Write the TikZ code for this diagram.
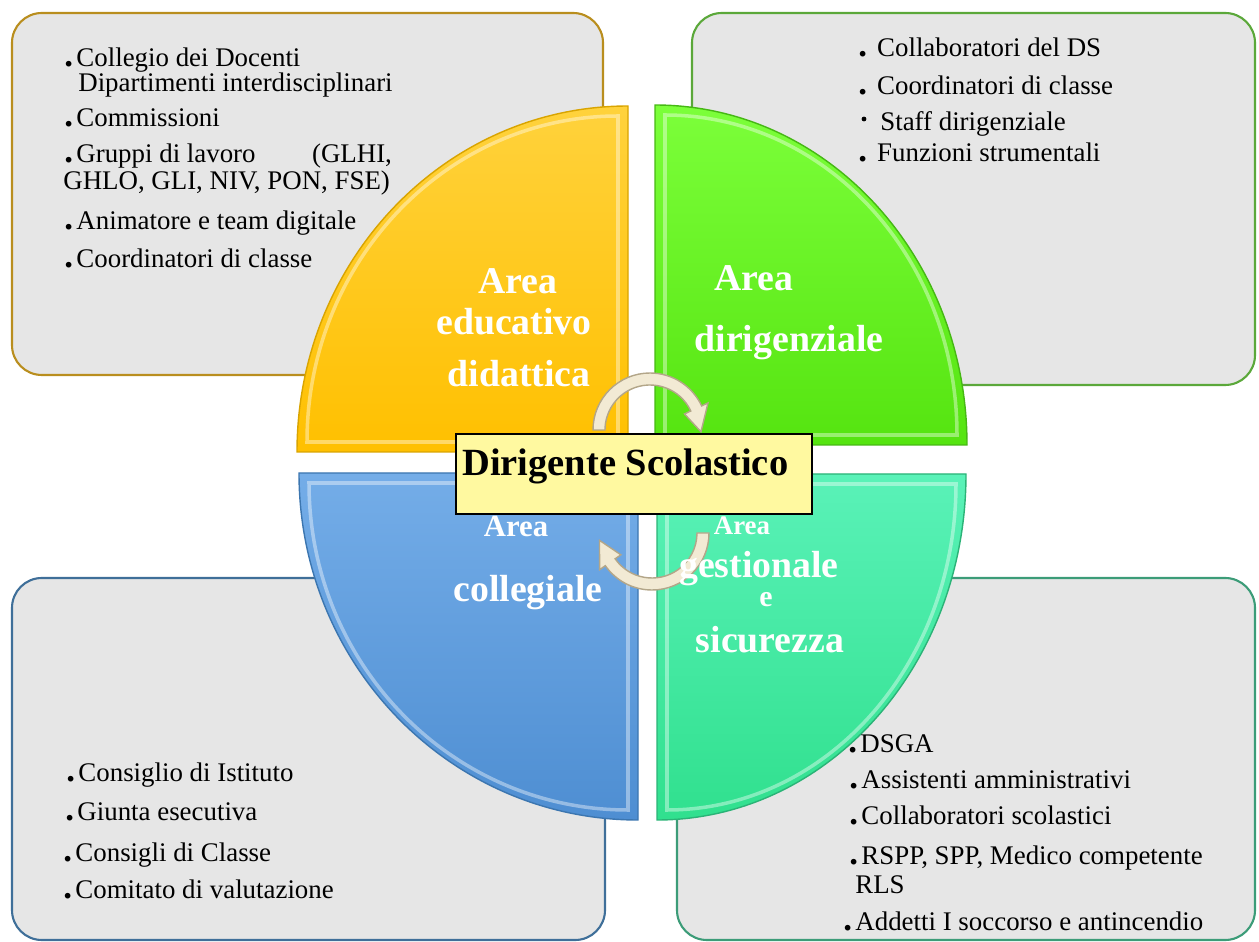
\documentclass[tikz,border=0pt]{standalone}
\usepackage{fontspec}
\setmainfont{Liberation Serif}
\usetikzlibrary{calc}
\usetikzlibrary{positioning}

\definecolor{boxgray}{HTML}{E6E6E6}
\definecolor{edgegold}{HTML}{B98E1E}
\definecolor{edgegreen}{HTML}{5BA83A}
\definecolor{edgeblue}{HTML}{3F6F99}
\definecolor{edgeteal}{HTML}{3C9C78}
\definecolor{ytop}{HTML}{FFD23C}
\definecolor{ybot}{HTML}{FFC000}
\definecolor{yedge}{HTML}{D9A400}
\definecolor{gtop}{HTML}{7CFF3A}
\definecolor{gbot}{HTML}{55E410}
\definecolor{gedge}{HTML}{46B814}
\definecolor{btop}{HTML}{74ADE8}
\definecolor{bbot}{HTML}{4E8ED2}
\definecolor{bedge}{HTML}{3C76B0}
\definecolor{ttop}{HTML}{5AF2B8}
\definecolor{tbot}{HTML}{30E08E}
\definecolor{tedge}{HTML}{2BB377}
\definecolor{dsfill}{HTML}{FFF9A0}
\definecolor{arrowfill}{HTML}{F2EAD4}
\definecolor{arrowedge}{HTML}{B3A689}

\newcommand{\lbul}{\makebox[0.45em][l]{\scalebox{1.3}{\textbf{.}}}}

\begin{document}
\begin{tikzpicture}[x=0.02cm, y=-0.02cm,
  listbox/.style={rounded corners=17pt, line width=1.2pt, fill=boxgray},
  quarter/.style={line width=0.8pt},
  bevel/.style={line width=2pt, draw=white, opacity=0.4},
  item/.style={anchor=base west, inner sep=0pt, font=\fontsize{15.3}{18}\selectfont},
  arealbl/.style={anchor=base, inner sep=0pt, text=white, font=\bfseries\fontsize{21.5}{24}\selectfont},
  turnarrow/.style={fill=arrowfill, draw=arrowedge, line width=0.8pt},
  dsbox/.style={draw=black, line width=1pt, fill=dsfill, minimum width=7.12cm, minimum height=1.6cm, inner sep=0pt}]
\useasboundingbox (0,0) rectangle (1259,942);

% grey boxes
\draw[listbox, draw=edgegold] (12,13) rectangle (603,375);
\draw[listbox, draw=edgegreen] (692,13) rectangle (1255,385);
\draw[listbox, draw=edgeblue] (12,578) rectangle (605,940);
\draw[listbox, draw=edgeteal] (677,578) rectangle (1255,940);

% the four quarters
\draw[quarter, draw=yedge, top color=ytop, bottom color=ybot]
  (628,452) -- ++(-331,0) arc[start angle=180, end angle=270, x radius=331, y radius=346] -- cycle;
\draw[quarter, draw=gedge, top color=gtop, bottom color=gbot]
  (655,445) -- ++(0,-340) arc[start angle=270, end angle=360, x radius=312, y radius=340] -- cycle;
\draw[quarter, draw=bedge, top color=btop, bottom color=bbot]
  (638,473) -- ++(-339,0) arc[start angle=180, end angle=90, x radius=339, y radius=347] -- cycle;
\draw[quarter, draw=tedge, top color=ttop, bottom color=tbot]
  (657,474) -- ++(309,0) arc[start angle=0, end angle=90, x radius=309, y radius=346] -- cycle;

% bevels
\draw[bevel] (618,442) -- ++(-311,0) arc[start angle=180, end angle=270, x radius=311, y radius=326] -- cycle;
\draw[bevel] (665,435) -- ++(0,-320) arc[start angle=270, end angle=360, x radius=292, y radius=320] -- cycle;
\draw[bevel] (628,483) -- ++(-319,0) arc[start angle=180, end angle=90, x radius=319, y radius=327] -- cycle;
\draw[bevel] (667,484) -- ++(289,0) arc[start angle=0, end angle=90, x radius=289, y radius=326] -- cycle;

% turning arrows
\draw[turnarrow] (650,430) ++(180:57) arc[start angle=180, end angle=335, radius=57]
  -- ($(650,430)+(335:64)$) -- ($(650,430)+(2:51)$) -- ($(650,430)+(335:38)$)
  -- ($(650,430)+(335:45)$) arc[start angle=335, end angle=180, radius=45] -- cycle;
\draw[turnarrow] (652,533) ++(0:57) arc[start angle=0, end angle=145, radius=57]
  -- ($(652,533)+(145:64)$) -- ($(652,533)+(172:53)$) -- ($(652,533)+(145:38)$)
  -- ($(652,533)+(145:45)$) arc[start angle=145, end angle=0, radius=45] -- cycle;

% central box
\node[dsbox, anchor=north west] (ds) at (455,433) {};
\node[anchor=base west, inner sep=0pt, font=\bfseries\fontsize{21.9}{24}\selectfont] (dstext) at (462,476) {Dirigente Scolastico};

% area labels
\node[arealbl] (a1) at (518,294) {Area};
\node[arealbl] (a1b) at (514,335) {educativo};
\node[arealbl] (a1c) at (519,387) {didattica};
\node[arealbl] (a2) at (754,291) {Area};
\node[arealbl] (a2b) at (789,352) {dirigenziale};
\node[arealbl, font=\bfseries\fontsize{17.5}{20}\selectfont] (a3) at (516,537) {Area};
\node[arealbl] (a3b) at (528,602) {collegiale};
\node[arealbl, font=\bfseries\fontsize{15.3}{18}\selectfont] (a4) at (742,535) {Area};
\node[arealbl] (a4b) at (759,578) {gestionale};
\node[arealbl, font=\bfseries\fontsize{17}{20}\selectfont] (a4c) at (766,607) {e};
\node[arealbl] (a4d) at (770,653) {sicurezza};

% top left list
\node[item] (tl1) at (64,67) {\lbul Collegio dei Docenti};
\node[item] (tl2) at (78,92) {Dipartimenti interdisciplinari};
\node[item] (tl3) at (64,127) {\lbul Commissioni};
\node[item] (tl4) at (64,163) {\lbul Gruppi di lavoro\hspace{2.1em}(GLHI,};
\node[item] (tl5) at (63,190) {GHLO, GLI, NIV, PON, FSE)};
\node[item] (tl6) at (64,230) {\lbul Animatore e team digitale};
\node[item] (tl7) at (64,268) {\lbul Coordinatori di classe};

% top right list
\node[item] (tr1) at (858,57) {\lbul\ Collaboratori del DS};
\node[item] (tr2) at (858,95) {\lbul\ Coordinatori di classe};
\fill (864,119) circle (2.4);
\node[item] (tr3) at (880,131) {Staff dirigenziale};
\node[item] (tr4) at (858,162) {\lbul\ Funzioni strumentali};

% bottom left list
\node[item] (bl1) at (66,782) {\lbul Consiglio di Istituto};
\node[item] (bl2) at (65,821) {\lbul Giunta esecutiva};
\node[item] (bl3) at (63,862) {\lbul Consigli di Classe};
\node[item] (bl4) at (63,898) {\lbul Comitato di valutazione};

% bottom right list
\node[item] (br1) at (848,753) {\lbul DSGA};
\node[item] (br2) at (849,788) {\lbul Assistenti amministrativi};
\node[item] (br3) at (849,825) {\lbul Collaboratori scolastici};
\node[item] (br4) at (849,865) {\lbul RSPP, SPP, Medico competente};
\node[item] (br5) at (855,893) {RLS};
\node[item] (br6) at (843,930) {\lbul Addetti I soccorso e antincendio};
\end{tikzpicture}
\end{document}
